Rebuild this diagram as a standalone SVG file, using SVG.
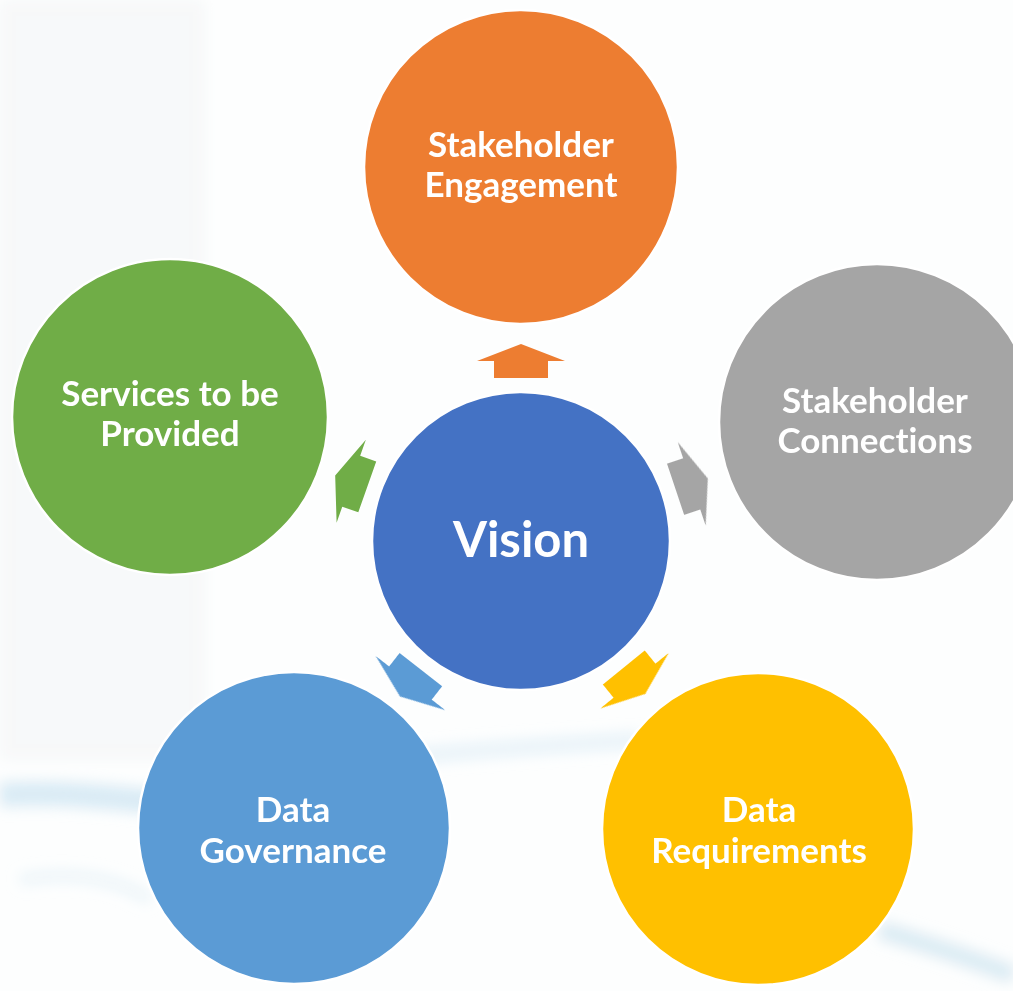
<svg xmlns="http://www.w3.org/2000/svg" width="1013" height="991" viewBox="0 0 1013 991">
<defs>
<style>
.lbl{font-family:Lato,"Open Sans","Liberation Sans",sans-serif;font-weight:bold;fill:#fff;font-size:35px;text-anchor:middle;font-variant-ligatures:none}
.big{font-size:49px}
.node{stroke:#fff;stroke-width:2.5}
</style>
<filter id="blur" x="-20%" y="-50%" width="140%" height="200%"><feGaussianBlur stdDeviation="7"/></filter>
<path id="arr" d="M0,-197 L44,-180 L27,-180 L27,-163 L-27,-163 L-27,-180 L-44,-180 Z"/>
</defs>
<rect width="1013" height="991" fill="#fdfefe"/>
<g id="background" filter="url(#blur)" fill="none">
<rect x="0" y="0" width="205" height="760" fill="#f1f4f6" opacity="0.5"/>
<path d="M0,795 C60,790 120,800 200,805" stroke="#cfe6f2" stroke-width="24" opacity="0.8"/>
<path d="M380,760 C460,750 560,745 640,740" stroke="#dcedf6" stroke-width="16" opacity="0.6"/>
<path d="M880,930 C930,945 975,960 1013,975" stroke="#d2e6f0" stroke-width="18" opacity="0.8"/>
<path d="M20,880 C80,870 120,880 150,900" stroke="#e3f0f6" stroke-width="12" opacity="0.6"/>
</g>
<g id="connectors">
<use href="#arr" fill="#ED7D31" transform="translate(521,541)"/>
<use href="#arr" fill="#A5A5A5" transform="translate(521,541) rotate(71.5)"/>
<use href="#arr" fill="#FFC000" transform="translate(521,541) rotate(140.9)"/>
<use href="#arr" fill="#5B9BD5" transform="translate(521,541) rotate(-142.1)"/>
<use href="#arr" fill="#70AD47" transform="translate(521,541) rotate(-70.6)"/>
</g>
<g id="node-engagement">
<circle class="node" cx="521" cy="167" r="157" fill="#ED7D31"/>
<text class="lbl" x="521" y="157">Stakeholder</text>
<text class="lbl" x="521" y="197">Engagement</text>
</g>
<g id="node-services">
<circle class="node" cx="170" cy="417" r="158" fill="#70AD47"/>
<text class="lbl" x="170" y="406">Services to be</text>
<text class="lbl" x="170" y="446">Provided</text>
</g>
<g id="node-connections">
<circle class="node" cx="877" cy="422" r="158" fill="#A5A5A5"/>
<text class="lbl" x="875" y="413">Stakeholder</text>
<text class="lbl" x="875" y="453">Connections</text>
</g>
<g id="node-governance">
<circle class="node" cx="294" cy="828" r="156" fill="#5B9BD5"/>
<text class="lbl" x="293" y="822">Data</text>
<text class="lbl" x="293" y="863">Governance</text>
</g>
<g id="node-requirements">
<circle class="node" cx="758" cy="829" r="156" fill="#FFC000"/>
<text class="lbl" x="759" y="822">Data</text>
<text class="lbl" x="759" y="863">Requirements</text>
</g>
<g id="node-vision">
<circle class="node" cx="521" cy="541" r="149" fill="#4472C4"/>
<text class="lbl big" x="521" y="557">Vision</text>
</g>
</svg>
